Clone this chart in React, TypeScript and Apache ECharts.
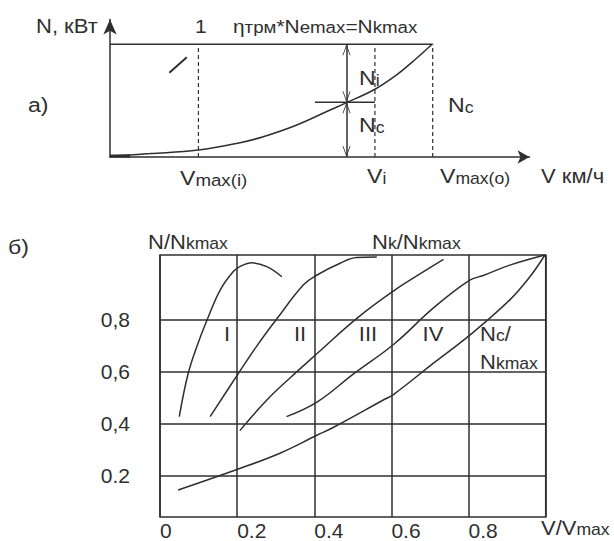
import React, { useEffect, useRef } from 'react';
import * as echarts from 'echarts';

const INK = '#2f2f2f';
const FONT = '"Liberation Sans", Arial, sans-serif';

// ---- Panel а: power balance sketch (V in units of Vmax(o), N in units of Nkmax)
const resistanceCurve: [number, number][] = [
  [0.005, 0.009], [0.124, 0.03], [0.274, 0.062], [0.403, 0.127], [0.475, 0.18],
  [0.579, 0.284], [0.682, 0.417], [0.733, 0.482], [0.821, 0.601], [0.888, 0.728],
  [0.95, 0.876], [0.998, 1.0],
];
const nkmaxLevel: [number, number][] = [[0, 1], [1, 1]];
const startStub: [number, number][] = [[0, 0.009], [0.062, 0.009]];
const leaderOne: [number, number][] = [[0.184, 0.748], [0.238, 0.885]];
const vMaxI = 0.274;
const vI = 0.821;
const vMaxO = 1.0;
const splitLevel = 0.485;
const splitArrowV = 0.733;
const splitLineFrom = 0.635;

// ---- Panel б: relative power vs relative speed
const yTickValues = [0.2, 0.4, 0.6, 0.8];
const yTickLabels = ['0.2', '0,4', '0,6', '0,8'];

const gearI: [number, number][] = [
  [0.05, 0.427], [0.073, 0.593], [0.097, 0.703], [0.123, 0.803], [0.156, 0.915],
  [0.19, 0.986], [0.207, 1.005], [0.238, 1.02], [0.277, 1.005], [0.316, 0.966],
];
const gearII: [number, number][] = [
  [0.13, 0.427], [0.203, 0.593], [0.249, 0.695], [0.303, 0.804], [0.372, 0.935],
  [0.406, 0.972], [0.467, 1.018], [0.51, 1.04], [0.562, 1.042],
];
const gearIII: [number, number][] = [
  [0.207, 0.373], [0.277, 0.491], [0.337, 0.576], [0.408, 0.671], [0.508, 0.803],
  [0.607, 0.913], [0.674, 0.977], [0.735, 1.033],
];
const gearIV: [number, number][] = [
  [0.328, 0.427], [0.408, 0.484], [0.501, 0.591], [0.607, 0.707], [0.709, 0.846],
  [0.802, 0.952], [0.838, 0.971], [0.907, 1.011], [0.998, 1.05],
];
const resistanceRel: [number, number][] = [
  [0.047, 0.144], [0.203, 0.225], [0.311, 0.286], [0.408, 0.356], [0.449, 0.385],
  [0.579, 0.491], [0.607, 0.514], [0.709, 0.633], [0.804, 0.742], [0.907, 0.877],
  [0.959, 0.966], [0.998, 1.05],
];

// open chevron arrow head whose tip sits at the symbol centre
const CHEVRON = 'path://M5,0 M0,24 L5,12 L10,24 L9,24 L5,14.5 L1,24 Z';

const lineSeries = (
  name: string,
  data: [number, number][],
  grid: number,
  extra: Record<string, unknown> = {}
) => ({
  name,
  type: 'line',
  xAxisIndex: grid,
  yAxisIndex: grid,
  data,
  symbol: 'none',
  silent: true,
  lineStyle: { color: INK, width: 1.5 },
  ...extra,
});

const txt = (
  x: number,
  y: number,
  text: string,
  size: number,
  small = 14,
  align: 'left' | 'center' | 'right' = 'left'
) => ({
  type: 'text',
  x,
  y,
  scaleX: 1.1,
  silent: true,
  style: {
    text,
    fill: INK,
    fontSize: size,
    fontFamily: FONT,
    align,
    verticalAlign: 'middle',
    rich: {
      s: { fontSize: small, fontFamily: FONT, verticalAlign: 'bottom' },
    },
  },
});

export default function App() {
  const ref = useRef<HTMLDivElement>(null);

  useEffect(() => {
    if (!ref.current) return;
    const chart = echarts.init(ref.current, undefined, { renderer: 'svg' });

    const option = {
      animation: false,
      backgroundColor: '#ffffff',
      grid: [
        { left: 110, top: 19.5, width: 419.5, height: 137.5 },
        {
          left: 160,
          top: 255,
          width: 385.7,
          height: 262,
          show: true,
          borderColor: INK,
          borderWidth: 1.5,
          backgroundColor: 'transparent',
        },
      ],
      xAxis: [
        {
          type: 'value',
          gridIndex: 0,
          min: 0,
          max: 1.3,
          axisLine: {
            show: true,
            symbol: ['none', 'arrow'],
            symbolSize: [10, 12],
            lineStyle: { color: INK, width: 1.5 },
          },
          axisTick: { show: false },
          axisLabel: { show: false },
          splitLine: { show: false },
        },
        {
          type: 'value',
          gridIndex: 1,
          min: 0,
          max: 1,
          interval: 0.2,
          axisLine: { show: false },
          axisTick: { show: false },
          axisLabel: {
            show: true,
            align: 'left',
            margin: 3,
            color: INK,
            fontSize: 21,
            fontFamily: FONT,
            showMaxLabel: false,
            formatter: (v: number) => (v >= 1 ? '' : v === 0 ? '0' : v.toFixed(1)),
          },
          splitLine: { show: true, lineStyle: { color: INK, width: 1.5 } },
        },
      ],
      yAxis: [
        {
          type: 'value',
          gridIndex: 0,
          min: 0,
          max: 1.22,
          axisLine: {
            show: true,
            symbol: ['none', 'arrow'],
            symbolSize: [10, 15],
            lineStyle: { color: INK, width: 1.5 },
          },
          axisTick: { show: false },
          axisLabel: { show: false },
          splitLine: { show: false },
        },
        {
          type: 'value',
          gridIndex: 1,
          min: 0.04,
          max: 1.05,
          axisLine: { show: false },
          axisTick: { show: false, customValues: yTickValues },
          axisLabel: {
            show: true,
            customValues: yTickValues,
            margin: 30,
            padding: [14, 0, 0, 0],
            color: INK,
            fontSize: 21,
            fontFamily: FONT,
            formatter: (v: number) => {
              const i = yTickValues.findIndex((t) => Math.abs(t - v) < 1e-6);
              return i >= 0 ? yTickLabels[i] : '';
            },
          },
          splitLine: { show: false },
        },
      ],
      series: [
        // panel а
        lineSeries('Nkmax', nkmaxLevel, 0),
        lineSeries('Nc', resistanceCurve, 0, { smooth: 0.4 }),
        lineSeries('stub', startStub, 0, { lineStyle: { color: INK, width: 3 } }),
        lineSeries('leader 1', leaderOne, 0, { lineStyle: { color: INK, width: 2 } }),
        lineSeries('Vmax(i)', [[vMaxI, 0], [vMaxI, 1]], 0, {
          lineStyle: { color: INK, width: 1.2, type: [4, 3] },
        }),
        lineSeries('Vi', [[vI, 0], [vI, 1]], 0, {
          lineStyle: { color: INK, width: 1.2, type: [4, 3] },
        }),
        lineSeries('Vmax(o)', [[vMaxO, 0], [vMaxO, 1]], 0, {
          lineStyle: { color: INK, width: 1.2, type: [4, 3] },
        }),
        lineSeries('split', [[splitLineFrom, splitLevel], [vI, splitLevel]], 0, {
          markLine: {
            silent: true,
            symbol: [CHEVRON, CHEVRON],
            symbolSize: [8, 22],
            label: { show: false },
            lineStyle: { color: INK, width: 1.5, type: 'solid' },
            emphasis: { disabled: true },
            data: [
              [{ coord: [splitArrowV, 1] }, { coord: [splitArrowV, splitLevel] }],
              [{ coord: [splitArrowV, splitLevel] }, { coord: [splitArrowV, 0] }],
            ],
          },
        }),
        // panel б
        lineSeries('I', gearI, 1, {
          smooth: 0.4,
          markLine: {
            silent: true,
            symbol: 'none',
            label: { show: false },
            lineStyle: { color: INK, width: 1.5, type: 'solid' },
            emphasis: { disabled: true },
            data: yTickValues.map((v) => ({ yAxis: v })),
          },
        }),
        lineSeries('II', gearII, 1, { smooth: 0.4 }),
        lineSeries('III', gearIII, 1, { smooth: 0.4 }),
        lineSeries('IV', gearIV, 1, { smooth: 0.4 }),
        lineSeries('Nc/Nkmax', resistanceRel, 1, { smooth: 0.4 }),
      ],
      graphic: [
        // panel а
        txt(36, 26, 'N, кВт', 20),
        txt(195, 26, '1', 19),
        txt(233, 26, 'η{s|трм}*N{s|emax}=N{s|kmax}', 19, 17),
        txt(359, 78, 'N{s|i}', 21, 16),
        txt(359, 125, 'N{s|c}', 21, 16),
        txt(448, 105, 'N{s|c}', 21, 16),
        txt(28, 105, 'а)', 21),
        txt(180, 178, 'V{s|max(i)}', 21, 17),
        txt(367, 176, 'V{s|i}', 21, 16),
        txt(440, 176, 'V{s|max(o)}', 21, 16),
        txt(541, 176, 'V км/ч', 20),
        // panel б
        txt(8, 247, 'б)', 21),
        txt(148, 242, 'N/N{s|kmax}', 20, 16),
        txt(372, 242, 'N{s|k}/N{s|kmax}', 20, 16),
        txt(227, 334, 'I', 20, 14, 'center'),
        txt(300, 334, 'II', 20, 14, 'center'),
        txt(368, 334, 'III', 20, 14, 'center'),
        txt(433, 334, 'IV', 20, 14, 'center'),
        txt(480, 334, 'N{s|c}/', 20, 16),
        txt(480, 362, 'N{s|kmax}', 20, 16),
        txt(541, 528, 'V/V{s|max}', 20, 16),
      ],
    };

    chart.setOption(option as any);
    return () => chart.dispose();
  }, []);

  return (
    <div
      ref={ref}
      style={{ position: 'fixed', left: 0, top: 0, width: 614, height: 541 }}
    />
  );
}
